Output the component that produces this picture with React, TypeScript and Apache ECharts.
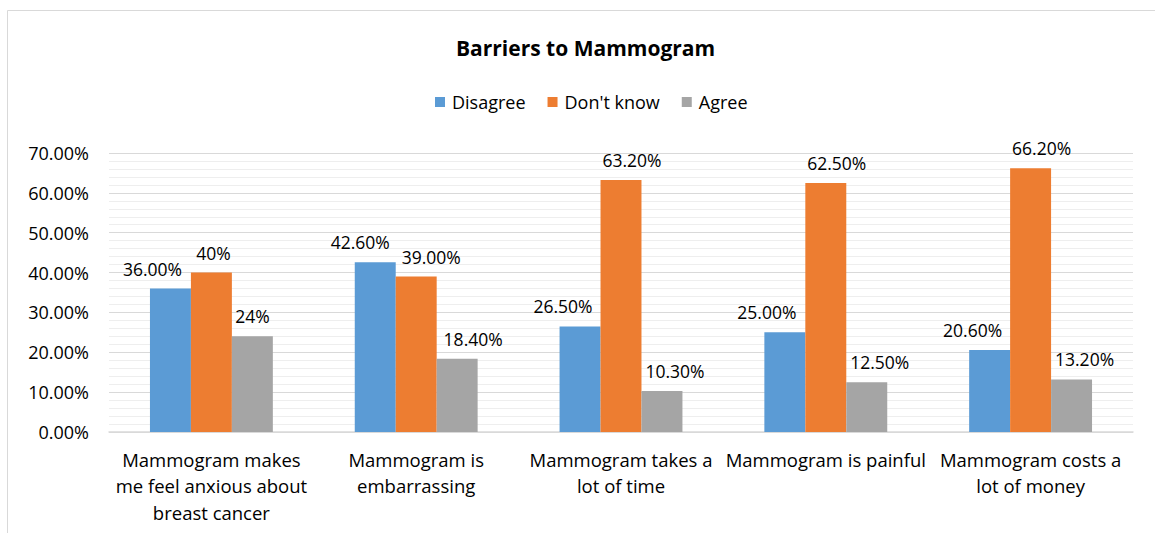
import React, { useEffect, useRef } from "react";
import * as echarts from "echarts";

const categories = [
  "Mammogram makes\nme feel anxious about\nbreast cancer",
  "Mammogram is\nembarrassing",
  "Mammogram takes a\nlot of time",
  "Mammogram is painful",
  "Mammogram costs a\nlot of money",
];
const seriesNames = ["Disagree", "Don't know", "Agree"];
const disagree = [36.0, 42.6, 26.5, 25.0, 20.6];
const dontKnow = [40.0, 39.0, 63.2, 62.5, 66.2];
const agree = [24.0, 18.4, 10.3, 12.5, 13.2];
const disagreeLabels = ["36.00%", "42.60%", "26.50%", "25.00%", "20.60%"];
const dontKnowLabels = ["40%", "39.00%", "63.20%", "62.50%", "66.20%"];
const agreeLabels = ["24%", "18.40%", "10.30%", "12.50%", "13.20%"];
const yTicks = { min: 0, max: 70, interval: 10 };

const FONT = "Open Sans";
const colors = ["#5B9BD5", "#ED7D31", "#A5A5A5"];

// label horizontal nudges (as in the reference, labels avoid overlapping)
const offsets = [
  [-18, 2, 0],
  [-15, 15, 16],
  [-17, 11, 13],
  [-18, 11, 13],
  [-17, 11, 13],
];

export default function App() {
  const ref = useRef<HTMLDivElement>(null);
  useEffect(() => {
    if (!ref.current) return;
    const chart = echarts.init(ref.current, null, { renderer: "svg" });
    const values = [disagree, dontKnow, agree];
    const labels = [disagreeLabels, dontKnowLabels, agreeLabels];
    chart.setOption({
      animation: false,
      textStyle: { fontFamily: FONT },
      color: colors,
      title: {
        text: "Barriers to Mammogram",
        left: 451,
        top: 32,
        textStyle: { fontFamily: FONT, fontSize: 21, fontWeight: "bold", color: "#000" },
      },
      legend: {
        data: seriesNames,
        top: 88,
        left: 430,
        itemWidth: 10,
        itemHeight: 10,
        itemGap: 22,
        icon: "rect",
        textStyle: { fontFamily: FONT, fontSize: 18, color: "#000", padding: [0, 0, 0, 2] },
      },
      graphic: [
        {
          type: "rect",
          shape: { x: 7.5, y: 10.5, width: 1300, height: 700 },
          style: { fill: "none", stroke: "#d9d9d9", lineWidth: 1 },
          silent: true,
        },
      ],
      grid: { left: 109, right: 22, top: 153, bottom: 101, containLabel: false },
      xAxis: {
        type: "category",
        data: categories,
        axisLine: { lineStyle: { color: "#d9d9d9", width: 1.5 } },
        axisTick: { show: false },
        axisLabel: {
          fontFamily: FONT,
          fontSize: 18.5,
          color: "#000",
          lineHeight: 26.5,
          margin: 14,
          interval: 0,
        },
      },
      yAxis: {
        type: "value",
        min: yTicks.min,
        max: yTicks.max,
        interval: yTicks.interval,
        axisLine: { show: false },
        axisTick: { show: false },
        axisLabel: {
          fontFamily: FONT,
          fontSize: 18,
          color: "#000",
          margin: 20,
          formatter: (v: number) => v.toFixed(2) + "%",
        },
        splitLine: { lineStyle: { color: "#d9d9d9", width: 1 } },
        minorTick: { show: false, splitNumber: 5 },
        minorSplitLine: { show: true, lineStyle: { color: "#eeeeee", width: 1 } },
      },
      series: values.map((vals, si) => ({
        name: seriesNames[si],
        type: "bar",
        barGap: "0%",
        barCategoryGap: "40%",
        data: vals.map((v, i) => ({
          value: v,
          label: {
            show: true,
            position: "top",
            distance: 11,
            offset: [offsets[i][si], 0],
            formatter: () => labels[si][i],
            fontFamily: FONT,
            fontSize: 17.5,
            color: "#000",
          },
        })),
      })),
    });
    return () => chart.dispose();
  }, []);
  return (
    <div
      ref={ref}
      style={{ position: "fixed", left: 0, top: 0, width: 1155, height: 533, background: "#fff" }}
    />
  );
}
